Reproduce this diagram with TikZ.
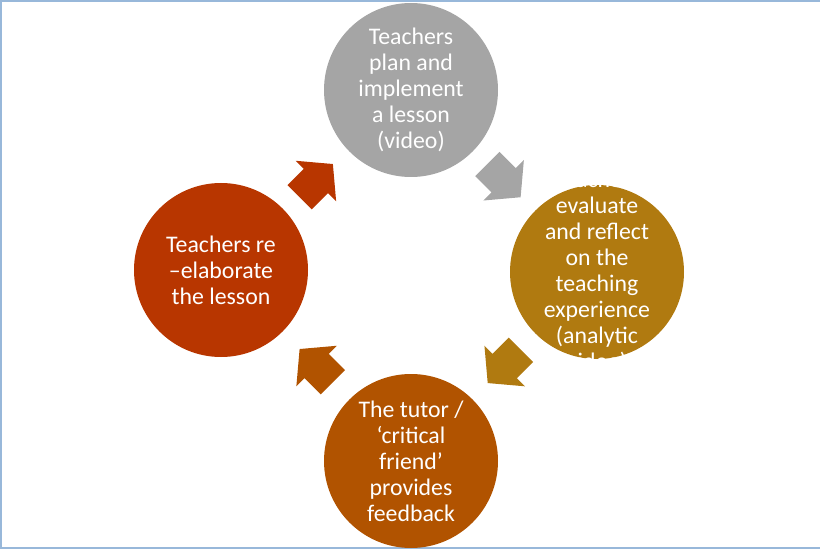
\documentclass[tikz,border=0pt]{standalone}
\usepackage{fontspec}
\setmainfont{Carlito}
\usetikzlibrary{shapes.arrows}
\usetikzlibrary{calc}

\definecolor{plangray}{RGB}{165,165,165}
\definecolor{reflectgold}{RGB}{176,122,16}
\definecolor{tutorbrown}{RGB}{177,83,0}
\definecolor{redored}{RGB}{184,54,0}
\definecolor{framecol}{RGB}{152,184,218}

\begin{document}
\begin{tikzpicture}[x=1pt,y=1pt,
	stage/.style={circle,minimum size=174pt,inner sep=0pt},
	caption/.style={text=white,align=center,font=\fontsize{23.8}{26}\selectfont},
	turn/.style={single arrow,anchor=tip,inner xsep=0pt,inner ysep=17pt,minimum height=47pt,
		single arrow head extend=11.5pt,single arrow tip angle=100}]
	\useasboundingbox (0,0) rectangle (820,550);
	\draw[framecol,line width=1.5pt] (1,549) rectangle (840,2);

	% the four stages of the cycle
	\node[stage,fill=plangray,label={[caption]center:{Teachers\\plan and\\implement\\a lesson\\(video)}}] (plan) at (411,460) {};
	\node[stage,fill=reflectgold,label={[caption]center:{Teachers\\evaluate\\and reflect\\on the\\teaching\\experience\\(analytic\\video)}}] (reflect) at (597,278) {};
	\node[stage,fill=tutorbrown,label={[caption]center:{The tutor /\\‘critical\\friend’\\provides\\feedback}}] (tutor) at (411,89) {};
	\node[stage,fill=redored,label={[caption]center:{Teachers re\\–elaborate\\the lesson}}] (redo) at (221,280) {};

	% block arrows half way between the stages, tip 23.5pt past the middle
	\node[turn,fill=plangray,rotate=-45] (a1) at ($(plan)!0.5!(reflect)!23.5pt!(reflect)$) {};
	\node[turn,fill=reflectgold,rotate=-135] (a2) at ($(reflect)!0.5!(tutor)!23.5pt!(tutor)$) {};
	\node[turn,fill=tutorbrown,rotate=135] (a3) at ($(tutor)!0.5!(redo)!23.5pt!(redo)$) {};
	\node[turn,fill=redored,rotate=45] (a4) at ($(redo)!0.5!(plan)!23.5pt!(plan)$) {};
\end{tikzpicture}
\end{document}
